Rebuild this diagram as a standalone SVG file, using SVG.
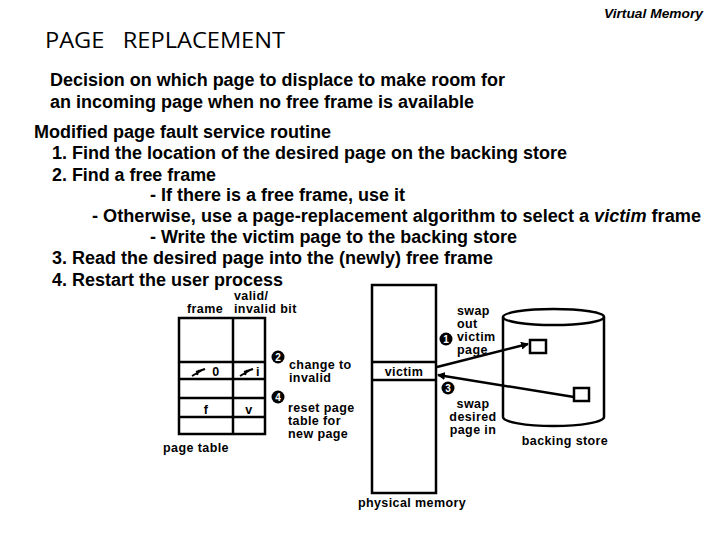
<svg xmlns="http://www.w3.org/2000/svg" width="720" height="540" viewBox="0 0 720 540">
<style>
.b{font-family:"Liberation Sans",Arial,sans-serif;font-weight:bold;font-size:18px;fill:#000}
.t{font-family:"Open Sans","Liberation Sans",sans-serif;font-size:22px;fill:#000;white-space:pre}
.s{font-family:"Liberation Sans",Arial,sans-serif;font-weight:bold;font-size:12.5px;letter-spacing:0.4px;fill:#000}
.ln{stroke:#000;stroke-width:2.5;fill:none}
.n{fill:#000}
.nt{font-family:"Liberation Sans",Arial,sans-serif;font-weight:bold;font-size:10px;fill:#fff;text-anchor:middle}
</style>
<defs>
<marker id="ah" markerWidth="8" markerHeight="8" refX="7" refY="4" orient="auto" markerUnits="userSpaceOnUse">
<path d="M0,0 L8,4 L0,8 z" fill="#000"/>
</marker>
</defs>
<rect width="720" height="540" fill="#fff"/>
<g id="header">
<text x="604" y="18" font-family="Liberation Sans,Arial,sans-serif" font-style="italic" font-weight="bold" font-size="12" textLength="99" lengthAdjust="spacingAndGlyphs">Virtual Memory</text>
<text class="t" x="45" y="48" textLength="240" lengthAdjust="spacingAndGlyphs" xml:space="preserve">PAGE   REPLACEMENT</text>
<text class="b" x="50" y="86" textLength="455" lengthAdjust="spacingAndGlyphs">Decision on which page to displace to make room for</text>
<text class="b" x="50" y="108" textLength="424" lengthAdjust="spacingAndGlyphs">an incoming page when no free frame is available</text>
<text class="b" x="34" y="138" textLength="297" lengthAdjust="spacingAndGlyphs">Modified page fault service routine</text>
<text class="b" x="52" y="159" textLength="515" lengthAdjust="spacingAndGlyphs">1. Find the location of the desired page on the backing store</text>
<text class="b" x="52" y="181" textLength="164" lengthAdjust="spacingAndGlyphs">2. Find a free frame</text>
<text class="b" x="150" y="201" textLength="255" lengthAdjust="spacingAndGlyphs">- If there is a free frame, use it</text>
<text class="b" x="92" y="222" textLength="609" lengthAdjust="spacingAndGlyphs">- Otherwise, use a page-replacement algorithm to select a <tspan font-style="italic">victim</tspan>  frame</text>
<text class="b" x="150" y="243" textLength="367" lengthAdjust="spacingAndGlyphs">- Write the victim page to the backing store</text>
<text class="b" x="52" y="264" textLength="441" lengthAdjust="spacingAndGlyphs">3. Read the desired page into the (newly) free frame</text>
<text class="b" x="52" y="286" textLength="231" lengthAdjust="spacingAndGlyphs">4. Restart the user process</text>
</g>
<g id="page-table">
<text class="s" x="187" y="313">frame</text>
<text class="s" x="234" y="300">valid/</text>
<text class="s" x="234" y="313">invalid bit</text>
<rect class="ln" x="179" y="318" width="86" height="116"/>
<line class="ln" x1="233" y1="318" x2="233" y2="434"/>
<line class="ln" x1="179" y1="362" x2="265" y2="362"/>
<line class="ln" x1="179" y1="379" x2="265" y2="379"/>
<line class="ln" x1="179" y1="398" x2="265" y2="398"/>
<line class="ln" x1="179" y1="417" x2="265" y2="417"/>
<path d="M192,376 L204,369 M197,375 L199,370 M196,372 L205,369" stroke="#000" stroke-width="2" fill="none"/>
<text class="s" x="216" y="376" text-anchor="middle">0</text>
<path d="M240,376 L252,369 M245,375 L247,370 M244,372 L253,369" stroke="#000" stroke-width="2" fill="none"/>
<text class="s" x="258" y="376" text-anchor="middle">i</text>
<text class="s" x="206" y="414" text-anchor="middle">f</text>
<text class="s" x="249" y="414" text-anchor="middle">v</text>
<text class="s" x="196" y="452" text-anchor="middle">page table</text>
</g>
<g id="step2">
<circle class="n" cx="278" cy="357" r="6.5"/>
<text class="nt" x="278" y="361">2</text>
<text class="s" x="289" y="369">change to</text>
<text class="s" x="289" y="382">invalid</text>
</g>
<g id="step4">
<circle class="n" cx="278" cy="397" r="6.5"/>
<text class="nt" x="278" y="401">4</text>
<text class="s" x="288" y="412">reset page</text>
<text class="s" x="288" y="425">table for</text>
<text class="s" x="288" y="438">new page</text>
</g>
<g id="physical-memory">
<rect class="ln" x="372" y="285" width="64" height="208"/>
<line class="ln" x1="372" y1="362" x2="436" y2="362"/>
<line class="ln" x1="372" y1="380" x2="436" y2="380"/>
<text class="s" x="404" y="376" text-anchor="middle">victim</text>
<text class="s" x="412" y="507" text-anchor="middle">physical memory</text>
</g>
<g id="backing-store">
<path class="ln" d="M503,317 L503,417 A50.5,9 0 0 0 604,417 L604,317"/>
<ellipse class="ln" cx="553.5" cy="317" rx="50.5" ry="8"/>
<rect class="ln" x="530" y="340" width="16" height="13"/>
<rect class="ln" x="574" y="388" width="15" height="13"/>
<text class="s" x="565" y="445" text-anchor="middle">backing store</text>
</g>
<g id="connectors">
<line class="ln" x1="437" y1="367" x2="528" y2="344" marker-end="url(#ah)"/>
<line class="ln" x1="574" y1="397" x2="438" y2="375" marker-end="url(#ah)"/>
</g>
<g id="step1">
<circle class="n" cx="446" cy="339" r="6.5"/>
<text class="nt" x="446" y="343">1</text>
<text class="s" x="457" y="315">swap</text>
<text class="s" x="457" y="328">out</text>
<text class="s" x="457" y="341">victim</text>
<text class="s" x="457" y="354">page</text>
</g>
<g id="step3">
<circle class="n" cx="448" cy="388" r="6.5"/>
<text class="nt" x="448" y="392">3</text>
<text class="s" x="473" y="408" text-anchor="middle">swap</text>
<text class="s" x="473" y="421" text-anchor="middle">desired</text>
<text class="s" x="473" y="434" text-anchor="middle">page in</text>
</g>
</svg>
